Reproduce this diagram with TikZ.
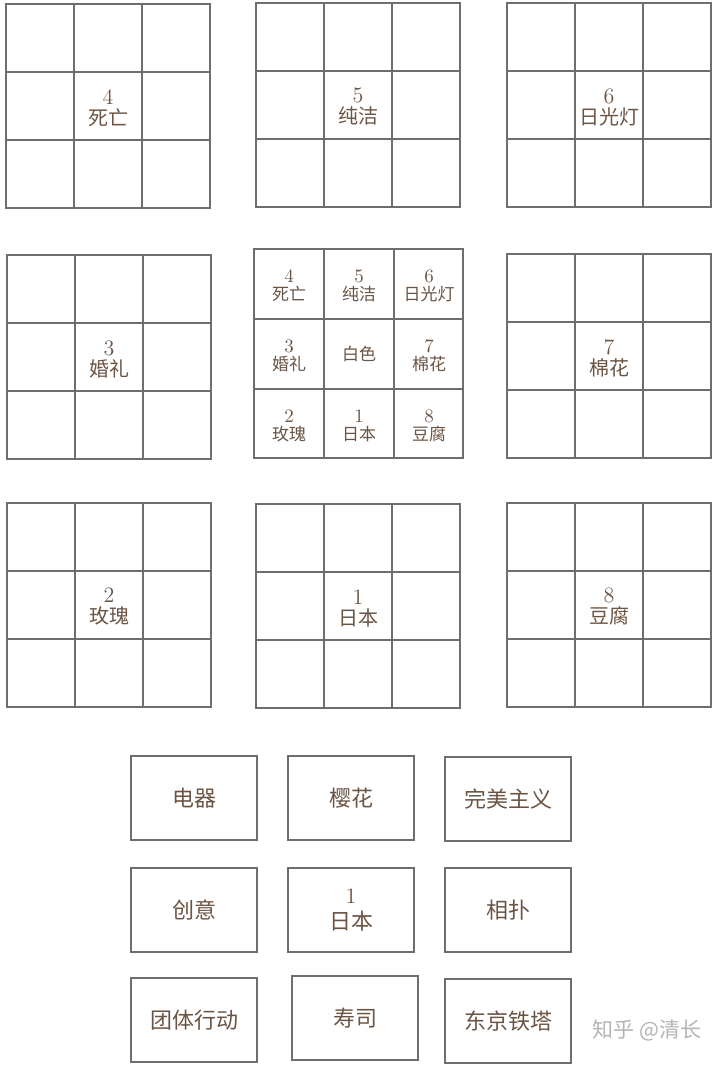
\documentclass[tikz,border=0pt]{standalone}
\usepackage{fontspec}
\usepackage{xcolor}
\newfontfamily\cjk{Noto Sans CJK SC}
\definecolor{LotusGray}{HTML}{6E6E6E}
\definecolor{LotusBrown}{HTML}{6B5444}
\definecolor{LotusMark}{HTML}{B4B4B4}

\begin{document}
\begin{tikzpicture}[x=0.5pt, y=-0.5pt,
    gridline/.style={draw=LotusGray, line width=0.7pt},
    bigword/.style={text=LotusBrown, align=center, inner sep=0pt, font=\fontsize{10}{10.5}\selectfont\cjk},
    smallword/.style={text=LotusBrown, align=center, inner sep=0pt, font=\fontsize{8.5}{9}\selectfont\cjk},
    ideabox/.style={draw=LotusGray, line width=0.7pt, minimum width=63pt, minimum height=42pt, text=LotusBrown, align=center, font=\fontsize{11}{13}\selectfont\cjk}]
                \useasboundingbox (0,0) rectangle (720,1065);
                \fill[white] (0,0) rectangle (720,1065);

                % eight outer grids
                \foreach \gx/\gy/\num/\word in {6/4/4/死亡, 256/3/5/纯洁, 507/3/6/日光灯, 7/255/3/婚礼, 507/254/7/棉花, 7/503/2/玫瑰, 256/504/1/日本, 507/503/8/豆腐} {
                    \draw[gridline] (\gx,\gy) rectangle ++(204,204);
                    \foreach \k in {68,136} {
                        \draw[gridline] (\gx+\k,\gy) -- ++(0,204);
                        \draw[gridline] (\gx,\gy+\k) -- ++(204,0);
                    }
                    \node[bigword] (word\num) at (\gx+102,\gy+104) {{\rmfamily\fontsize{11}{10.5}\selectfont\num}\\\word};
                }

                % center grid
                \draw[gridline] (254,249) rectangle (463,458);
                \foreach \k in {70,140} {
                    \draw[gridline] (254+\k,249) -- (254+\k,458);
                    \draw[gridline] (254,249+\k) -- (463,249+\k);
                }
                \foreach \cx/\cy/\num/\word in {0/0/4/死亡, 1/0/5/纯洁, 2/0/6/日光灯, 0/1/3/婚礼, 2/1/7/棉花, 0/2/2/玫瑰, 1/2/1/日本, 2/2/8/豆腐} {
                    \node[smallword] (cell\num) at (289+70*\cx,286+70*\cy) {{\rmfamily\fontsize{9.5}{9}\selectfont\num}\\\word};
                }
                \node[smallword] (white) at (359,354) {白色};

                % bottom boxes
                \node[ideabox] (appliance) at (194,798) {电器};
                \node[ideabox] (sakura) at (351,798) {樱花};
                \node[ideabox] (perfect) at (508,799) {完美主义};
                \node[ideabox] (idea) at (194,910) {创意};
                \node[ideabox] (japan) at (351,910) {{\rmfamily 1}\\日本};
                \node[ideabox] (sumo) at (508,910) {相扑};
                \node[ideabox] (team) at (194,1020) {团体行动};
                \node[ideabox] (sushi) at (355,1018) {寿司};
                \node[ideabox] (tower) at (508,1021) {东京铁塔};

                \node[text=LotusMark, font=\fontsize{10.5}{10}\selectfont\cjk] (mark) at (647,1030) {知乎 @清长};
            \end{tikzpicture}
\end{document}
